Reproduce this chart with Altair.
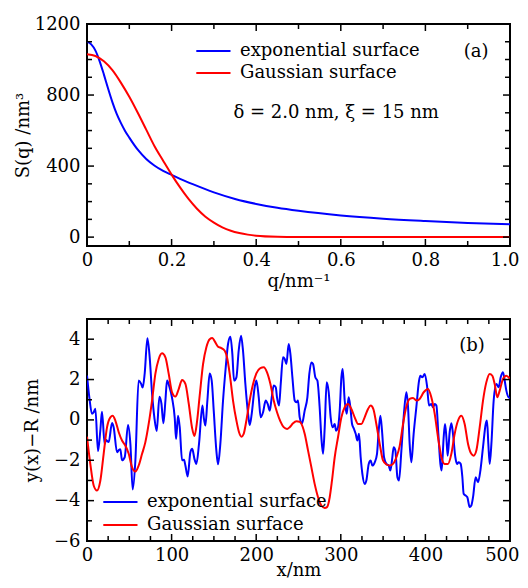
import altair as alt
import pandas as pd

FONT = "DejaVu Serif"
FS = 18
SERIES = ["exponential surface", "Gaussian surface"]
COLORS = ["#0000ff", "#ff0000"]

# ---------------- panel (a): S(q) ----------------
q_exp = [0, 0.01, 0.02, 0.03, 0.04, 0.05, 0.06, 0.07, 0.08, 0.09, 0.10, 0.12, 0.14,
         0.16, 0.18, 0.2, 0.22, 0.25, 0.3, 0.35, 0.4, 0.45, 0.5, 0.6, 0.7, 0.8, 0.9, 1.0]
S_exp = [1100, 1085, 1050, 990, 915, 835, 760, 695, 643, 598, 560, 492, 440,
         402, 373, 350, 328, 298, 252, 215, 187, 165, 148, 122, 104, 91, 80, 72]
q_gau = [0, 0.02, 0.04, 0.06, 0.08, 0.10, 0.12, 0.14, 0.16, 0.18, 0.20, 0.22, 0.24,
         0.26, 0.28, 0.30, 0.32, 0.34, 0.36, 0.38, 0.40, 0.45, 0.5, 0.6, 0.8, 1.0]
S_gau = [1030, 1020, 990, 940, 870, 790, 700, 605, 510, 430, 352, 280, 215,
         160, 115, 82, 55, 36, 23, 14, 8, 2, 0.5, 0, 0, 0]

# ---------------- panel (b): surface profiles ----------------
x_exp = [0, 2.8, 5.9, 7.9, 9.9, 13, 15.8, 17.7, 20.9, 22.5, 25.6, 29.6, 31.5, 35.5, 37.5,
         39.4, 41.4, 44.6, 48.5, 51.3, 54, 57.2, 61, 63.9, 65.8, 68.2, 71.4, 74.1, 76.9,
         79.6, 82.4, 85.6, 88, 90.3, 92.7, 94.6, 97.4, 100.5, 103.7, 105.3, 107.6, 109.6,
         112.4, 114.7, 116.3, 119, 122.2, 124.4, 127, 129.3, 132.4, 136.4, 138, 139.9,
         142.3, 145, 147.4, 149.8, 152.9, 154.9, 157.6, 160.8, 164, 166.7, 169.5, 171.8,
         173.8, 176.6, 179.3, 182.1, 184.4, 187.2, 190.4, 192.3, 194.7, 198.2, 200.2, 203,
         205.3, 208.1, 211.2, 213.6, 216, 217.9, 220.7, 223.1, 224.6, 227, 229, 231.7,
         233.7, 235.7, 238.4, 240.4, 242.8, 245.5, 247.5, 249.4, 251.4, 254.2, 257.3,
         260.5, 262.8, 265.2, 267.2, 269.9, 272.3, 275, 277, 279, 281, 283.3, 285.7, 288,
         290.4, 292.8, 294.4, 296.7, 298.7, 300.7, 302.2, 304.6, 306.9, 309.3, 311.3,
         313.3, 315.6, 317.6, 319.6, 321.5, 323.5, 325.5, 328.2, 330.2, 333, 335.3, 337.3,
         340.1, 342.8, 344.8, 346.8, 348.7, 351.1, 353.9, 356.6, 358.6, 360.5, 362.5,
         364.5, 366.9, 368.8, 371.6, 374.3, 377.5, 379.5, 381.4, 383.4, 386.1, 389.3,
         392.5, 394, 396.4, 399.2, 401.9, 404.3, 407, 409, 411, 413, 415.3, 417.7, 419.2,
         421.6, 423.2, 424.8, 426.3, 428.7, 430.7, 432.6, 435.4, 437.4, 439.3, 441.7,
         443.7, 445.2, 447.6, 449.6, 452.3, 454.3, 456.3, 459.4, 462.2, 465, 468.1, 471.3,
         472.8, 474.4, 476, 478, 480.7, 483.9, 486.6, 489, 491.7, 493.7, 495.7, 498.4, 500]
y_exp = [2.2, 1.1, 0.3, 0.38, 0.55, -1.55, -0.5, 0.4, -1.2, -1.0, -1.1, -0.15, -0.36, -1.6, -1.5,
         -1.45, -2.0, -1.85, -0.25, -1.2, -3.45, -2.0, 1.95, 1.8, 1.6, 2.3, 4.05, 3.1, 1.3,
         0.13, -0.55, 1.15, 0.8, -0.17, 0.96, 1.95, 1.65, 1.1, 0.1, -0.95, 0.2, -0.36,
         -2.0, -1.98, -2.26, -2.8, -1.6, -1.43, -1.93, -2.18, -1.19, 0.71, 0.13, -0.28,
         0.96, 2.3, 1.95, 0.46, -1.52, -2.2, -1.19, 0.96, 2.61, 3.76, 4.12, 3.27,
         1.95, 2.11, 3.43, 4.17, 3.43, 1.78, 0.3, -0.25, 0.3, 1.62, 1.95, 1.12,
         0.13, 0.38, 0.96, 0.79, 0.46, 0.96, 1.7, 1.62, 1.12, 0.71, 1.78, 3.1,
         3.02, 2.77, 3.76, 3.27, 2.11, 0.96, 0.87, 0.96, 0.13, -0.17, 0.46,
         1.12, 2.28, 2.85, 2.77, 2.11, 1.95, 0.63, -0.86, -1.68, -0.36, 1.86, 1.37, 0.13,
         -0.36, -0.2, -0.53, -0.36, 0.46, 2.11, 2.52, 0.96, 0.3, 1.12, 0.63,
         -0.2, -0.45, -0.69, -1.02, -0.69, -1.85, -2.67, -3.17, -3.0, -2.18, -2.01, -2.26,
         -2.1, -1.68, -0.53, 0.21, -0.53, -1.85, -2.18, -2.26, -2.51, -2.01, -1.35,
         -1.52, -2.84, -3.0, -1.52, 0.13, 1.37, 0.63, -1.19, -2.1, -0.69, 0.63,
         1.95, 2.19, 2.11, 2.28, 1.7, 0.71, 0.79, 0.63, 0.79, 0.71, -0.69, -2.18, -2.51,
         -0.86, -0.2, -0.86, -1.77, -0.61, -0.17, -0.69, -1.85, -2.18, -2.1, -2.18,
         -2.84, -3.66, -3.75, -3.83, -4.32, -4.24, -3.83, -2.84, -3.09, -2.51, -1.35, -0.2,
         -0.03, -1.19, -2.18, -1.19, 0.96, 1.78, 1.62, 2.11, 2.36, 1.95, 1.45, 1.12, 1.1]

x_gau = [0, 3.9, 7.9, 11.8, 15.8, 19.7, 23.7, 27.6, 30.4, 33.5, 37.5, 41.4, 45.3, 49.3, 53.2,
         57.2, 61.1, 65.1, 69, 72.9, 76.9, 80.8, 84.8, 88.7, 92.7, 96.6, 100.5, 104.5, 108.4,
         112.4, 116.3, 120.3, 124.2, 127, 130, 133.2, 137.2, 141.1, 145, 148.2, 151, 154.9,
         158.8, 162.8, 165.5, 168.7, 172.6, 176.6, 179.7, 182.5, 185.2, 188.4, 192.3,
         196.3, 200.2, 204.9, 208.9, 212.8, 216.8, 220.7, 224.6, 228.6, 232.5, 236.5,
         239.6, 243.5, 247.5, 251.4, 255, 257.3, 261.3, 265.2, 269.1, 273.1, 277, 281,
         283.7, 286.9, 289.6, 292.8, 296.7, 300.7, 304.6, 308.5, 312.5, 316.4, 320.4,
         324.3, 328.2, 332.2, 335.3, 338.5, 342, 346, 349.9, 353.9, 357.8, 361.7, 365.7,
         369.6, 373.6, 377.5, 381.4, 385.4, 389.3, 393.2, 398, 403.1, 407, 411, 414.9,
         418.9, 422.8, 426.7, 430.7, 434.6, 438.6, 442.5, 446.4, 450.4, 454.3, 457.1,
         460.2, 464.2, 468.1, 472, 476, 479.1, 481.9, 485, 487.8, 491.7, 495.7, 500]
y_gau = [-0.83, -2.18, -3.25, -3.5, -3.0, -1.68, -0.36, 0.13, 0.21, -0.03, -0.61, -1.02, -1.27, -1.68, -2.34,
         -2.56, -2.26, -1.68, -1.1, -0.2, 0.96, 2.28, 3.02, 3.3, 3.1, 2.28, 1.37, 1.16, 1.53,
         1.98, 1.78, 0.79, -0.4, -0.8, -0.1, 1.2, 2.77, 3.6, 4.0, 4.06, 3.89, 3.63,
         3.56, 3.43, 3.1, 2.28, 0.96, -0.03, -0.61, -0.83, -0.69, -0.03, 0.96,
         1.78, 2.31, 2.57, 2.61, 2.36, 1.78, 0.96, 0.38, -0.07, -0.36, -0.45,
         -0.36, -0.17, -0.07, -0.1, -0.35, -0.69, -1.52, -2.34, -3.17, -3.83, -4.24, -4.36,
         -4.32, -3.83, -3.0, -1.85, -0.86, 0.13, 0.63, 0.79, 0.54, 0.13, -0.2,
         -0.2, 0.13, 0.54, 0.71, 0.54, -0.2, -1.19, -2.01, -2.21, -2.26, -2.18, -1.85,
         -1.3, -0.2, 0.66, 1.04, 1.09, 0.96, 1.04, 1.37, 1.53, 1.12, 0.3, -0.86,
         -1.85, -2.18, -2.18, -1.68, -0.69, -0.03, 0.21, -0.2, -1.19, -1.68, -1.77,
         -1.52, -0.36, 0.96, 1.86, 2.28, 2.19, 1.78, 1.12, 1.45, 2.03, 2.19, 2.03]

# tick values
a_xmaj = [0, 0.2, 0.4, 0.6, 0.8, 1.0]
a_xmin = [0.1, 0.3, 0.5, 0.7, 0.9]
a_ymaj = [0, 400, 800, 1200]
a_ymin = [100, 200, 300, 500, 600, 700, 900, 1000, 1100]
b_xmaj = [0, 100, 200, 300, 400, 500]
b_xmin = [25, 50, 75, 125, 150, 175, 225, 250, 275, 325, 350, 375, 425, 450, 475]
b_ymaj = [-6, -4, -2, 0, 2, 4]
b_ymin = [-5, -3, -1, 1, 3, 5]

W, H = 423, 222


def long_df(xa, ya, xb, yb, xn, yn):
    return pd.DataFrame({
        xn: list(xa) + list(xb),
        yn: list(ya) + list(yb),
        "series": [SERIES[0]] * len(xa) + [SERIES[1]] * len(xb),
    })


def axis(values, title, label_expr=None, **kw):
    args = dict(values=values, title=title, ticks=False, tickSize=0, domain=False, grid=False,
                labelFlush=False, labelOverlap=False,
                labelFont=FONT, labelFontSize=FS, labelColor="black",
                titleFont=FONT, titleFontSize=FS, titleFontWeight="normal", titleColor="black")
    if label_expr:
        args["labelExpr"] = label_expr
    args.update(kw)
    return alt.Axis(**args)


def last_label_kw(last):
    # keep the right-most tick label inside the page: right-align it just past the frame
    test = f"datum.value == {last}"
    return dict(labelAlign={"condition": {"test": test, "value": "right"}, "value": "center"},
                labelOffset={"condition": {"test": test, "value": 9}, "value": 0})


def tick_layers(xs, ys, xax, yax, xmaj, xmin, ymaj, ymin):
    """Inward ticks on all four sides, placed through the panel's own scales."""
    out = []
    for vals, L in ((xmin, 5), (xmaj, 7)):
        base = alt.Chart(pd.DataFrame({"v": vals})).mark_rule(color="#000000", strokeWidth=1.5)
        out.append(base.encode(x=alt.X("v:Q", scale=xs, axis=xax), y=alt.value(H - L), y2=alt.value(H)))
        out.append(base.encode(x=alt.X("v:Q", scale=xs, axis=xax), y=alt.value(0), y2=alt.value(L)))
    for vals, L in ((ymin, 5), (ymaj, 7)):
        base = alt.Chart(pd.DataFrame({"v": vals})).mark_rule(color="#000000", strokeWidth=1.5)
        out.append(base.encode(y=alt.Y("v:Q", scale=ys, axis=yax), x=alt.value(0), x2=alt.value(L)))
        out.append(base.encode(y=alt.Y("v:Q", scale=ys, axis=yax), x=alt.value(W - L), x2=alt.value(W)))
    return out


# legend symbol: a 34px horizontal line drawn to the right of a small nominal symbol box
LEG_PATH = "M-1,0H5"


def legend(lx, ly, row_pad):
    return alt.Legend(orient="none", legendX=lx, legendY=ly, title=None, symbolType=LEG_PATH,
                      symbolSize=130, symbolStrokeWidth=2, symbolFillColor="transparent",
                      labelFont=FONT, labelFontSize=FS,
                      labelColor="black", labelOffset=29, rowPadding=row_pad, padding=0, labelLimit=0)


color_scale = alt.Scale(domain=SERIES, range=COLORS)

# ---- panel (a)
xs_a = alt.Scale(domain=[0, 1], nice=False, zero=False)
ys_a = alt.Scale(domain=[-50, 1200], nice=False, zero=False)
xax_a = axis(a_xmaj, "q/nm⁻¹", "datum.value == 0 ? '0' : format(datum.value, '.1f')",
             labelPadding=5, titlePadding=3, **last_label_kw(1))
yax_a = axis(a_ymaj, "S(q) /nm³", "format(datum.value, 'd')", labelPadding=7,
             minExtent=53, maxExtent=53, titlePadding=2)
df_a = long_df(q_exp, S_exp, q_gau, S_gau, "q", "S")
lines_a = alt.Chart(df_a).mark_line(strokeWidth=2, interpolate="monotone", clip=True).encode(
    x=alt.X("q:Q", scale=xs_a, axis=xax_a),
    y=alt.Y("S:Q", scale=ys_a, axis=yax_a),
    color=alt.Color("series:N", scale=color_scale, legend=legend(106, 18, 4)),
    detail="series:N",
)
ann_a = pd.DataFrame({"q": [0.92, 0.589], "S": [1043, 700],
                      "t": ["(a)", "δ = 2.0 nm, ξ = 15 nm"]})
text_a = alt.Chart(ann_a).mark_text(font=FONT, fontSize=FS, color="black", baseline="middle",
                                     align="center").encode(
    x=alt.X("q:Q", scale=xs_a, axis=xax_a), y=alt.Y("S:Q", scale=ys_a, axis=yax_a), text="t:N")
panel_a = alt.layer(lines_a, text_a,
                    *tick_layers(xs_a, ys_a, xax_a, yax_a, a_xmaj, a_xmin, a_ymaj, a_ymin)).properties(
    width=W, height=H)

# ---- panel (b)
xs_b = alt.Scale(domain=[0, 500], nice=False, zero=False)
ys_b = alt.Scale(domain=[-6, 5], nice=False, zero=False)
xax_b = axis(b_xmaj, "x/nm", labelPadding=5, titlePadding=-3, **last_label_kw(500))
yax_b = axis(b_ymaj, "y(x)−R /nm", labelPadding=7, minExtent=34, maxExtent=34, titlePadding=12)
df_b = long_df(x_exp, y_exp, x_gau, y_gau, "x", "y")
lines_b = alt.Chart(df_b).mark_line(strokeWidth=2, interpolate="monotone", clip=True).encode(
    x=alt.X("x:Q", scale=xs_b, axis=xax_b),
    y=alt.Y("y:Q", scale=ys_b, axis=yax_b),
    color=alt.Color("series:N", scale=color_scale, legend=legend(13, 174, 5)),
    detail="series:N",
)
ann_b = pd.DataFrame({"x": [455], "y": [3.68], "t": ["(b)"]})
text_b = alt.Chart(ann_b).mark_text(font=FONT, fontSize=FS, color="black", baseline="middle",
                                     align="center").encode(
    x=alt.X("x:Q", scale=xs_b, axis=xax_b), y=alt.Y("y:Q", scale=ys_b, axis=yax_b), text="t:N")
panel_b = alt.layer(lines_b, text_b,
                    *tick_layers(xs_b, ys_b, xax_b, yax_b, b_xmaj, b_xmin, b_ymaj, b_ymin)).properties(
    width=W, height=H)

chart = alt.vconcat(panel_a, panel_b, spacing=26).resolve_scale(
    color="independent", x="independent", y="independent").resolve_legend(color="independent").properties(
    padding={"left": 5, "top": 6, "right": 0, "bottom": 0}
).configure(background="white").configure_view(stroke="black", strokeWidth=2)

chart.save("out.html", embed_options={"renderer": "svg", "actions": False})
